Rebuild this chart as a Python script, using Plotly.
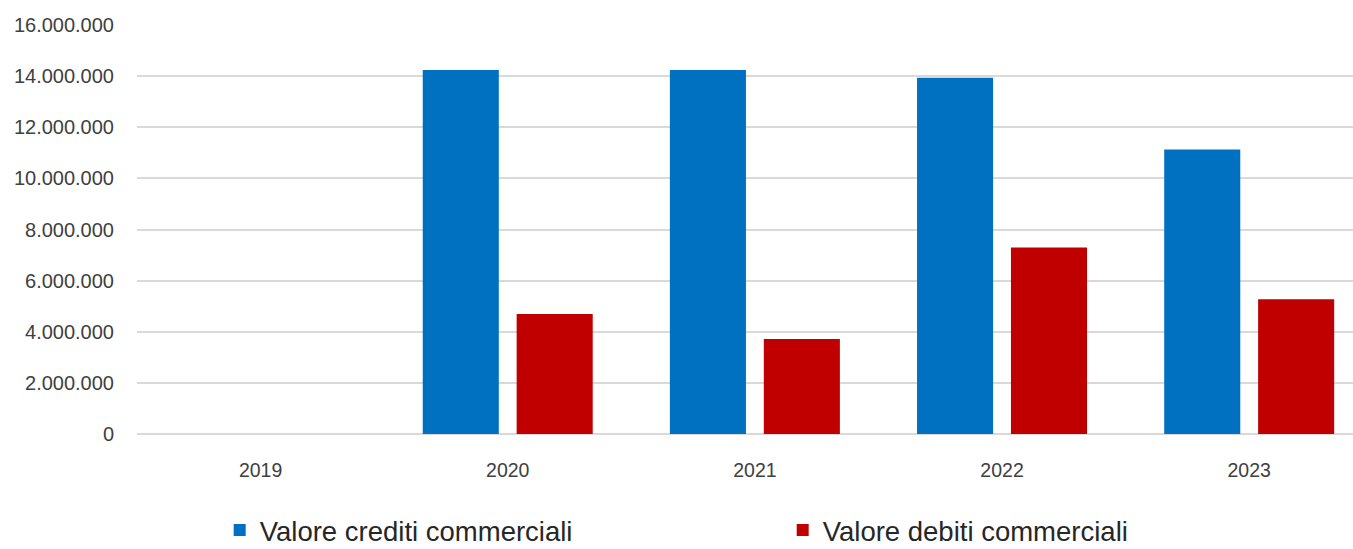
import plotly.graph_objects as go

# Anni e valori (euro)
anni = ["2019", "2020", "2021", "2022", "2023"]
crediti_commerciali = [0, 14240000, 14240000, 13940000, 11130000]
debiti_commerciali = [0, 4690000, 3720000, 7300000, 5270000]

BLU = "#0070C0"
ROSSO = "#C00000"

fig = go.Figure()
fig.add_bar(
    x=anni, y=crediti_commerciali, name="Valore crediti commerciali",
    marker=dict(color=BLU, line=dict(width=0)),
)
fig.add_bar(
    x=anni, y=debiti_commerciali, name="Valore debiti commerciali",
    marker=dict(color=ROSSO, line=dict(width=0)),
)

fig.update_layout(
    width=1353, height=549,
    margin=dict(l=137, r=0, t=25, b=115, autoexpand=False),
    paper_bgcolor="white", plot_bgcolor="white",
    separators=",.",
    barmode="group", bargap=0.24, bargroupgap=0.19,
    font=dict(family="Liberation Sans, Arial, sans-serif", color="#404040"),
    xaxis=dict(
        type="category", range=[-0.5, 4.42], showgrid=False,
        showline=False, zeroline=False,
        tickfont=dict(size=19.5, color="#404040"),
        ticklabelstandoff=22,
    ),
    yaxis=dict(
        range=[0, 16000000], dtick=2000000, tickformat=",d",
        gridcolor="#D9D9D9", gridwidth=2,
        zeroline=True, zerolinecolor="#D9D9D9", zerolinewidth=2,
        tickfont=dict(size=20, color="#404040"),
        ticklabelstandoff=22,
    ),
    legend=dict(
        orientation="h", x=0.068, xanchor="left", y=-0.235, yanchor="middle",
        font=dict(size=27.5, color="#262626"),
        entrywidth=518, entrywidthmode="pixels",
        traceorder="normal",
    ),
    showlegend=True,
)

fig.write_html("out.html")
